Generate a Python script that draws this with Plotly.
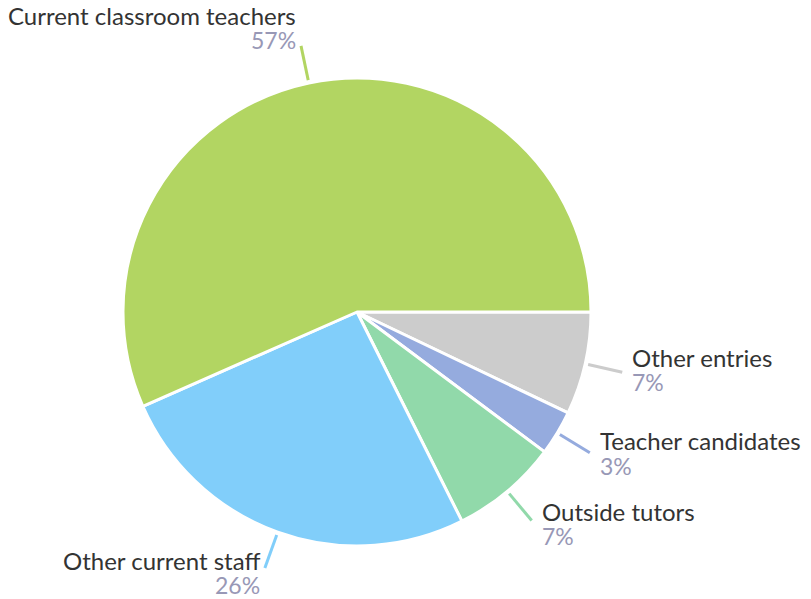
import math
import plotly.graph_objects as go

labels = ["Current classroom teachers", "Other current staff", "Outside tutors",
          "Teacher candidates", "Other entries"]
values = [56.6, 25.8, 7.4, 3.1, 7.1]
pct_labels = ["57%", "26%", "7%", "3%", "7%"]
colors = ["#b2d562", "#81cefa", "#91d9aa", "#95abde", "#cccccc"]

W, H = 811, 599
cx, cy, R = 357, 312, 234
FONT = "Lato"

fig = go.Figure()
# Slices run counterclockwise from 3 o'clock; drawn as reversed order clockwise.
fig.add_trace(go.Pie(
    labels=labels[::-1], values=values[::-1], sort=False, direction="clockwise",
    rotation=90, textinfo="none", hoverinfo="label+percent", showlegend=False,
    marker=dict(colors=colors[::-1], line=dict(color="white", width=3)),
    domain=dict(x=[(cx - R) / W, (cx + R) / W], y=[(H - cy - R) / H, (H - cy + R) / H]),
))

total = sum(values)
start = 0.0
annotations = []
for lab, v, p, c in zip(labels, values, pct_labels, colors):
    ang = start + v / total * 180.0
    start += v / total * 360.0
    a = math.radians(ang)
    r1, r2 = R + 3, R + 38
    x1, y1 = cx + r1 * math.cos(a), cy - r1 * math.sin(a)
    x2, y2 = cx + r2 * math.cos(a), cy - r2 * math.sin(a)
    fig.add_trace(go.Scatter(x=[x1, x2], y=[y1, y2], mode="lines",
                             line=dict(color=c, width=3), hoverinfo="skip",
                             showlegend=False))
    if math.cos(a) >= 0:
        tx, xa = x2 + 8, "left"
    else:
        tx, xa = x2 - 3, "right"
    s = math.sin(a)
    off = -17 - (14 if s > 0 else 10) * s
    ny, py = y2 + off, y2 + off + 25
    annotations.append(dict(x=tx, y=ny, xref="x", yref="y", text=lab, showarrow=False,
                            xanchor=xa, yanchor="middle",
                            font=dict(family=FONT, size=24, color="#333333")))
    annotations.append(dict(x=tx, y=py, xref="x", yref="y", text=p, showarrow=False,
                            xanchor=xa, yanchor="middle",
                            font=dict(family=FONT, size=23, color="#9898b6")))

fig.update_layout(
    width=W, height=H, margin=dict(l=0, r=0, t=0, b=0),
    paper_bgcolor="white", plot_bgcolor="rgba(0,0,0,0)",
    xaxis=dict(range=[0, W], visible=False, fixedrange=True),
    yaxis=dict(range=[H, 0], visible=False, fixedrange=True),
    annotations=annotations,
)
fig.write_html("out.html", config={"displayModeBar": False},
               post_script="document.body.style.margin='0';document.body.style.overflow='hidden';")
